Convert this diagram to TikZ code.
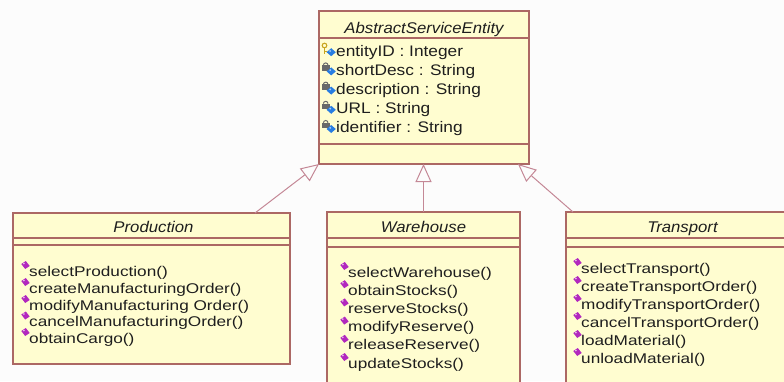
\documentclass[tikz,border=0pt]{standalone}
\usepackage{fontspec}
\setmainfont{Liberation Sans}
\newfontfamily\titlefont[FakeStretch=1.08]{Liberation Sans}
\newfontfamily\attrfont[FakeStretch=1.13]{Liberation Sans}
\newfontfamily\opfont[FakeStretch=1.22]{Liberation Sans}
\usetikzlibrary{arrows.meta}

\definecolor{classfill}{RGB}{255,253,208}
\definecolor{classline}{RGB}{172,104,100}
\definecolor{genline}{RGB}{196,136,150}
\definecolor{opfill}{RGB}{178,40,190}
\definecolor{attrblue}{RGB}{40,125,225}
\definecolor{lockgray}{RGB}{105,105,105}
\definecolor{keyyellow}{RGB}{200,165,30}
\definecolor{umltext}{RGB}{30,30,30}
\definecolor{pagebg}{RGB}{252,252,252}

\tikzstyle{classbox} = [rectangle, draw=classline, fill=classfill, line width=1.2pt, anchor=north west, inner sep=0pt, outer sep=0pt]
\tikzstyle{classdiv} = [draw=classline, line width=1.1pt]
\tikzstyle{classtitle} = [anchor=base, inner sep=0pt, text=umltext, font=\titlefont\itshape\fontsize{15.5}{18}\selectfont]
\tikzstyle{attr} = [anchor=base west, inner sep=0pt, text=umltext, font=\attrfont\fontsize{15.3}{18}\selectfont]
\tikzstyle{op} = [anchor=base west, inner sep=0pt, text=umltext, font=\opfont\fontsize{14.1}{16}\selectfont]
\tikzstyle{gen} = [draw=genline, line width=1pt, -{Triangle[open, length=18pt, width=16pt]}]

% operation marker (purple diamond)
\newcommand{\opmark}[1]{%
  \fill[opfill] ([shift={(-3.5pt,11pt)}]#1.base west) +(-4.2pt,1pt) -- +(0.3pt,4pt) -- +(4.2pt,-1pt) -- +(-0.3pt,-4pt) -- cycle;
  \fill[opfill!35!white] ([shift={(-5.2pt,12.5pt)}]#1.base west) circle[radius=1pt];}
% private attribute marker (lock + blue diamond)
\newcommand{\attrmark}[1]{%
  \fill[lockgray] ([shift={(-14pt,4.5pt)}]#1.base west) rectangle +(7.5pt,5.5pt);
  \draw[lockgray, line width=1pt] ([shift={(-12.6pt,10pt)}]#1.base west) arc[start angle=180, end angle=0, radius=2.3pt];
  \fill[attrblue] ([shift={(-4.8pt,3.8pt)}]#1.base west) +(-4.6pt,0pt) -- +(0pt,4pt) -- +(4.6pt,0pt) -- +(0pt,-4pt) -- cycle;
  \fill[white!60!attrblue] ([shift={(-5.8pt,5pt)}]#1.base west) circle[radius=1pt];}
% key attribute marker (key + blue diamond)
\newcommand{\keymark}[1]{%
  \draw[keyyellow, line width=1.1pt] ([shift={(-11.5pt,10.5pt)}]#1.base west) circle[radius=2.3pt];
  \draw[keyyellow, line width=1.1pt] ([shift={(-11.5pt,8.2pt)}]#1.base west) -- +(0pt,-6.5pt) +(0pt,-3.5pt) -- +(2.2pt,-3.5pt);
  \fill[attrblue] ([shift={(-4.8pt,3.8pt)}]#1.base west) +(-4.6pt,0pt) -- +(0pt,4pt) -- +(4.6pt,0pt) -- +(0pt,-4pt) -- cycle;
  \fill[white!60!attrblue] ([shift={(-5.8pt,5pt)}]#1.base west) circle[radius=1pt];}

\begin{document}
\begin{tikzpicture}[x=1pt, y=-1pt]
    \useasboundingbox (0,0) rectangle (784,381);
    \clip (0,0) rectangle (784,381);
    \fill[pagebg] (0,0) rectangle (784,381);

    % Abstract base class
    \node[classbox, minimum width=210pt, minimum height=153pt] (ase) at (319,11) {};
    \draw[classdiv] ([yshift=-27pt]ase.north west) -- ([yshift=-27pt]ase.north east);
    \draw[classdiv] ([yshift=-133pt]ase.north west) -- ([yshift=-133pt]ase.north east);
    \node[classtitle] (asename) at (424,33) {AbstractServiceEntity};
    \node[attr] (a1) at (336,56) {entityID : Integer};
    \node[attr] (a2) at (336,75.2) {shortDesc : String};
    \node[attr] (a3) at (336,94.4) {description : String};
    \node[attr] (a4) at (336,113.6) {URL : String};
    \node[attr] (a5) at (336,132.8) {identifier : String};
    \keymark{a1}
    \attrmark{a2}
    \attrmark{a3}
    \attrmark{a4}
    \attrmark{a5}

    % Production
    \node[classbox, minimum width=277pt, minimum height=151pt] (prod) at (13,213) {};
    \draw[classdiv] ([yshift=-25pt]prod.north west) -- ([yshift=-25pt]prod.north east);
    \draw[classdiv] ([yshift=-32pt]prod.north west) -- ([yshift=-32pt]prod.north east);
    \node[classtitle] (prodname) at (153.5,232) {Production};
    \node[op] (p1) at (29,276) {selectProduction()};
    \node[op] (p2) at (29,293) {createManufacturingOrder()};
    \node[op] (p3) at (29,310) {modifyManufacturing Order()};
    \node[op] (p4) at (29,326.5) {cancelManufacturingOrder()};
    \node[op] (p5) at (29,343) {obtainCargo()};
    \opmark{p1} \opmark{p2} \opmark{p3} \opmark{p4} \opmark{p5}

    % Warehouse
    \node[classbox, minimum width=193pt, minimum height=200pt] (ware) at (327,212) {};
    \draw[classdiv] ([yshift=-26pt]ware.north west) -- ([yshift=-26pt]ware.north east);
    \draw[classdiv] ([yshift=-35pt]ware.north west) -- ([yshift=-35pt]ware.north east);
    \node[classtitle] (warename) at (423.5,232) {Warehouse};
    \node[op] (w1) at (348,277) {selectWarehouse()};
    \node[op] (w2) at (348,295.2) {obtainStocks()};
    \node[op] (w3) at (348,313.4) {reserveStocks()};
    \node[op] (w4) at (348,331.6) {modifyReserve()};
    \node[op] (w5) at (348,349.8) {releaseReserve()};
    \node[op] (w6) at (348,368) {updateStocks()};
    \opmark{w1} \opmark{w2} \opmark{w3} \opmark{w4} \opmark{w5} \opmark{w6}

    % Transport
    \node[classbox, minimum width=234pt, minimum height=200pt] (trans) at (566,212) {};
    \draw[classdiv] ([yshift=-26pt]trans.north west) -- ([yshift=-26pt]trans.north east);
    \draw[classdiv] ([yshift=-35pt]trans.north west) -- ([yshift=-35pt]trans.north east);
    \node[classtitle] (transname) at (682.5,232) {Transport};
    \node[op] (t1) at (581,273) {selectTransport()};
    \node[op] (t2) at (581,291) {createTransportOrder()};
    \node[op] (t3) at (581,309) {modifyTransportOrder()};
    \node[op] (t4) at (581,327) {cancelTransportOrder()};
    \node[op] (t5) at (581,345) {loadMaterial()};
    \node[op] (t6) at (581,363) {unloadMaterial()};
    \opmark{t1} \opmark{t2} \opmark{t3} \opmark{t4} \opmark{t5} \opmark{t6}

    % Generalisations
    \draw[gen] ([xshift=-35pt]prod.north east) -- (ase.south west);
    \draw[gen] (ware.north) -- (ware.north |- ase.south);
    \draw[gen] ([xshift=7pt]trans.north west) -- ([xshift=-11pt]ase.south east);
\end{tikzpicture}
\end{document}
